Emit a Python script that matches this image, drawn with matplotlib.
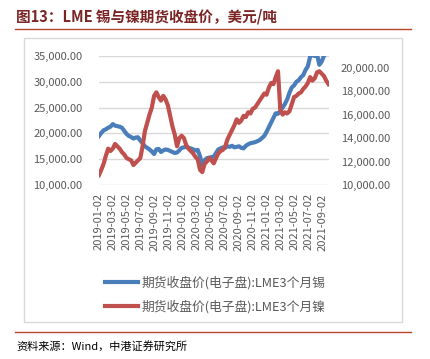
import matplotlib
matplotlib.use('Agg')
import matplotlib.pyplot as plt
import pandas as pd
from matplotlib.patches import Rectangle
from matplotlib.lines import Line2D
from matplotlib.ticker import FuncFormatter

plt.rcParams['font.family'] = ['Noto Sans CJK SC', 'DejaVu Sans']

# 取样日期（每10天一个点）
dates = pd.date_range('2019-01-02', '2021-09-28', freq='10D')

# LME3个月锡，美元/吨（左轴）
tin = [19500, 20100, 20600, 20800, 21100, 21300, 21800, 21500, 21400, 21300,
       21100, 20500, 19900, 19500, 19300, 19000, 19200, 19250, 18600, 18100,
       17500, 17200, 16900, 16500, 16000, 16900, 17000, 16400, 16700, 16900,
       16800, 16600, 16400, 16200, 16300, 16700, 17200, 17300, 17400, 17200,
       17100, 16900, 16700, 16800, 15600, 13900, 14800, 15200, 15300, 15400,
       15500, 16200, 16900, 17100, 17300, 17200, 17500, 17400, 17600, 17300,
       17400, 17500, 17200, 17100, 17600, 17900, 18100, 18200, 18300, 18500,
       18700, 19100, 19500, 20300, 21200, 22100, 23000, 23900, 23800, 24300,
       25000, 25700, 26600, 27900, 28900, 29300, 30000, 30300, 30900, 31300,
       32300, 33000, 34900, 35200, 35000, 35300, 33300, 33900, 35000, 35600,
       36500]

# LME3个月镍，美元/吨（右轴）
nickel = [10850, 11300, 11800, 12500, 13100, 12900, 13100, 13500, 13300, 13100,
          12800, 12600, 12300, 12200, 12100, 11700, 11900, 12100, 12300, 13300,
          14600, 15300, 16000, 16600, 17600, 17900, 17500, 17200, 17600, 17300,
          16800, 15900, 15000, 14300, 13300, 14000, 14200, 14000, 13400, 13100,
          12900, 12700, 12400, 12200, 11300, 11100, 11800, 12000, 12300, 12100,
          11850, 12300, 12700, 12900, 13000, 13300, 13900, 14300, 14700, 15100,
          15600, 15300, 15500, 15900, 15800, 16200, 16100, 16500, 16600, 16900,
          17200, 17500, 17800, 17700, 18300, 18700, 18600, 19200, 19700, 16400,
          16000, 16200, 16100, 16300, 16900, 17500, 17600, 17800, 17900, 18200,
          18400, 18700, 19200, 18900, 19100, 19600, 19700, 19500, 19300, 18900,
          18600]

tick_labels = ['2019-01-02', '2019-03-02', '2019-05-02', '2019-07-02', '2019-09-02',
               '2019-11-02', '2020-01-02', '2020-03-02', '2020-05-02', '2020-07-02',
               '2020-09-02', '2020-11-02', '2021-01-02', '2021-03-02', '2021-05-02',
               '2021-07-02', '2021-09-02']
left_ticks = [10000, 15000, 20000, 25000, 30000, 35000]
right_ticks = [10000, 12000, 14000, 16000, 18000, 20000]

grey = '#595959'

fig = plt.figure(figsize=(4.3, 3.59), dpi=100)
W, H = 430.0, 359.0

ax = fig.add_axes([99 / W, 1 - 185 / H, 229.5 / W, 129 / H])
ax2 = ax.twinx()

l1, = ax.plot(dates, tin, color='#4A7EBB', lw=3)
l2, = ax2.plot(dates, nickel, color='#C0504D', lw=3)

ax.set_ylim(10000, 35000)
ax2.set_ylim(10000, 21000)
ax.set_xlim(dates[0], dates[-1])
ax.set_yticks(left_ticks)
ax2.set_yticks(right_ticks)
fmt = FuncFormatter(lambda v, p: '{:,.2f}'.format(v))
ax.yaxis.set_major_formatter(fmt)
ax2.yaxis.set_major_formatter(fmt)

ax.set_xticks(pd.to_datetime(tick_labels))
ax.set_xticklabels(tick_labels, rotation=90)

ax.yaxis.grid(True, color='#D9D9D9', lw=1)
ax.set_axisbelow(True)
for a in (ax, ax2):
    for s in a.spines.values():
        s.set_visible(False)
ax.tick_params(axis='y', length=0, labelsize=8, labelcolor=grey, pad=12)
ax2.tick_params(axis='y', length=0, labelsize=8, labelcolor=grey, pad=9)
ax.tick_params(axis='x', length=0, labelsize=8, labelcolor=grey, pad=6)

fig.legend([l1, l2], ['期货收盘价(电子盘):LME3个月锡', '期货收盘价(电子盘):LME3个月镍'],
           loc='upper center', bbox_to_anchor=(0.5, 1 - 264 / H), frameon=False,
           fontsize=9.2, labelcolor=grey, handlelength=2.6, handletextpad=0.3,
           labelspacing=0.85)

# 外框和标题线
fig.add_artist(Rectangle((24 / W, 1 - 322 / H), 378 / W, 284 / H, transform=fig.transFigure,
                         fill=False, edgecolor='#D9D9D9', lw=1))
fig.add_artist(Line2D([15 / W, 411 / W], [1 - 29 / H] * 2, color='#B8462E', lw=1))
fig.add_artist(Line2D([15 / W, 411 / W], [1 - 332 / H] * 2, color='#B8462E', lw=1))

fig.text(16 / W, 1 - 17 / H, '图13：LME 锡与镍期货收盘价，美元/吨', fontsize=10.5,
         fontweight='bold', color='#7B2424', va='center', ha='left')
fig.text(16 / W, 1 - 346 / H, '资料来源：Wind，中港证券研究所', fontsize=8,
         style='italic', color='black', va='center', ha='left')

fig.savefig('out.png', dpi=100)
